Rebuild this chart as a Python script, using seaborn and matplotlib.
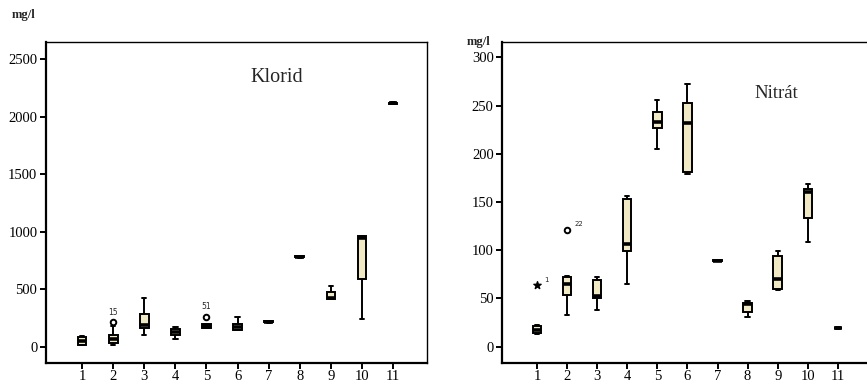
import numpy as np
import pandas as pd
import matplotlib
matplotlib.use("Agg")
import matplotlib.pyplot as plt
import seaborn as sns

sns.set_style("white")
plt.rcParams['font.family'] = ['Liberation Serif', 'DejaVu Serif']

categories = ["1", "2", "3", "4", "5", "6", "7", "8", "9", "10", "11"]

# Klorid (mg/l): whisker low, Q1, median, Q3, whisker high
klorid_wlo = [15, 17, 104, 72, 163, 148, 210, 775, 415, 241, 2112]
klorid_q1 = [20, 32, 163, 104, 165, 150, 213, 778, 417, 589, 2115]
klorid_med = [55, 67, 191, 130, 185, 175, 217, 785, 425, 950, 2120]
klorid_q3 = [90, 104, 284, 154, 197, 200, 221, 792, 476, 965, 2125]
klorid_whi = [95, 180, 423, 171, 200, 261, 225, 795, 533, 968, 2128]
klorid_out_cat = ["2", "5"]
klorid_out_val = [213, 264]
klorid_out_lab = ["15", "51"]

# Nitrát (mg/l)
nitrat_wlo = [13, 33, 37.6, 64.8, 204.5, 179, 88.5, 30.3, 59, 108.3, 18.5]
nitrat_q1 = [14, 54, 50.4, 99.7, 227.3, 181.3, 89, 35.9, 59.5, 133, 19]
nitrat_med = [17, 65, 52.8, 106.6, 233, 232, 89.3, 44, 70, 160.7, 19.3]
nitrat_q3 = [21, 72, 68.6, 153, 243.4, 253, 89.7, 45.2, 94.5, 164, 19.7]
nitrat_whi = [22, 73.4, 72.7, 156.5, 255.5, 272.8, 90, 47.6, 99.3, 168.6, 20]
nitrat_out_cat = ["1", "2"]
nitrat_out_val = [63.4, 121]
nitrat_out_lab = ["1", "22"]
nitrat_out_marker = ["*", "o"]


def make_df(wlo, q1, med, q3, whi):
    rows = []
    for c, a, b, m, d, e in zip(categories, wlo, q1, med, q3, whi):
        for v in (a, b, m, d, e):
            rows.append({"cat": c, "val": v})
    return pd.DataFrame(rows)


fig = plt.figure(figsize=(8.67, 3.83), dpi=100)
ax1 = fig.add_axes([45.7 / 867, 1 - 363 / 383, 381.3 / 867, 321 / 383])
ax2 = fig.add_axes([502 / 867, 1 - 363 / 383, 369 / 867, 321 / 383])

fill = "#f0e9c4"
box_kw = dict(x="cat", y="val", order=categories, whis=(0, 100), width=0.28,
              color=fill, saturation=1, linecolor="black", linewidth=1.4, fliersize=0,
              medianprops=dict(linewidth=2.6, color="black"),
              capprops=dict(linewidth=1.4))

df1 = make_df(klorid_wlo, klorid_q1, klorid_med, klorid_q3, klorid_whi)
df2 = make_df(nitrat_wlo, nitrat_q1, nitrat_med, nitrat_q3, nitrat_whi)
sns.boxplot(data=df1, ax=ax1, **box_kw)
sns.boxplot(data=df2, ax=ax2, **box_kw)

# outliers
for c, v, lab in zip(klorid_out_cat, klorid_out_val, klorid_out_lab):
    xi = categories.index(c)
    ax1.scatter([xi], [v], marker="o", s=16, facecolor="white", edgecolor="black", linewidth=1.4, zorder=5)
    ax1.text(xi, v + 45, lab, ha="center", va="bottom", fontsize=5.5, family="DejaVu Sans")
for c, v, lab, mk in zip(nitrat_out_cat, nitrat_out_val, nitrat_out_lab, nitrat_out_marker):
    xi = categories.index(c)
    if mk == "*":
        ax2.scatter([xi], [v], marker="*", s=30, color="black", zorder=5)
    else:
        ax2.scatter([xi], [v], marker="o", s=16, facecolor="white", edgecolor="black", linewidth=1.4, zorder=5)
    ax2.text(xi + 0.25, v + 3, lab, ha="left", va="bottom", fontsize=5, family="DejaVu Sans")

ax1.set_xlim(-1.17, 11.09)
ax1.set_ylim(-140, 2652)
ax1.set_yticks([0, 500, 1000, 1500, 2000, 2500])
ax2.set_xlim(-1.16, 11.1)
ax2.set_ylim(-17, 316)
ax2.set_yticks([0, 50, 100, 150, 200, 250, 300])

for ax in (ax1, ax2):
    ax.set_xlabel("")
    ax.set_ylabel("")
    ax.set_xticks(range(len(categories)))
    ax.set_xticklabels(categories)
    ax.tick_params(axis="both", direction="out", length=4, width=1.4,
                   bottom=True, left=True, pad=2, colors="black")
    ax.tick_params(axis="y", labelsize=10.5)
    ax.tick_params(axis="x", labelsize=10.5, pad=1)
    for s in ax.spines.values():
        s.set_visible(True)
        s.set_color("black")
        s.set_linewidth(1.0)
    ax.spines["left"].set_linewidth(1.6)
    ax.spines["bottom"].set_linewidth(1.6)

fig.text(277 / 867, 1 - 78 / 383, "Klorid", fontsize=14.5, ha="center", va="center")
fig.text(776 / 867, 1 - 93 / 383, "Nitrát", fontsize=13.5, ha="center", va="center")
fig.text(12 / 867, 1 - 15 / 383, "mg/l", fontsize=9, fontweight="bold", ha="left", va="center")
fig.text(467 / 867, 1 - 42 / 383, "mg/l", fontsize=9, fontweight="bold", ha="left", va="center")

fig.savefig("out.png", dpi=100)
